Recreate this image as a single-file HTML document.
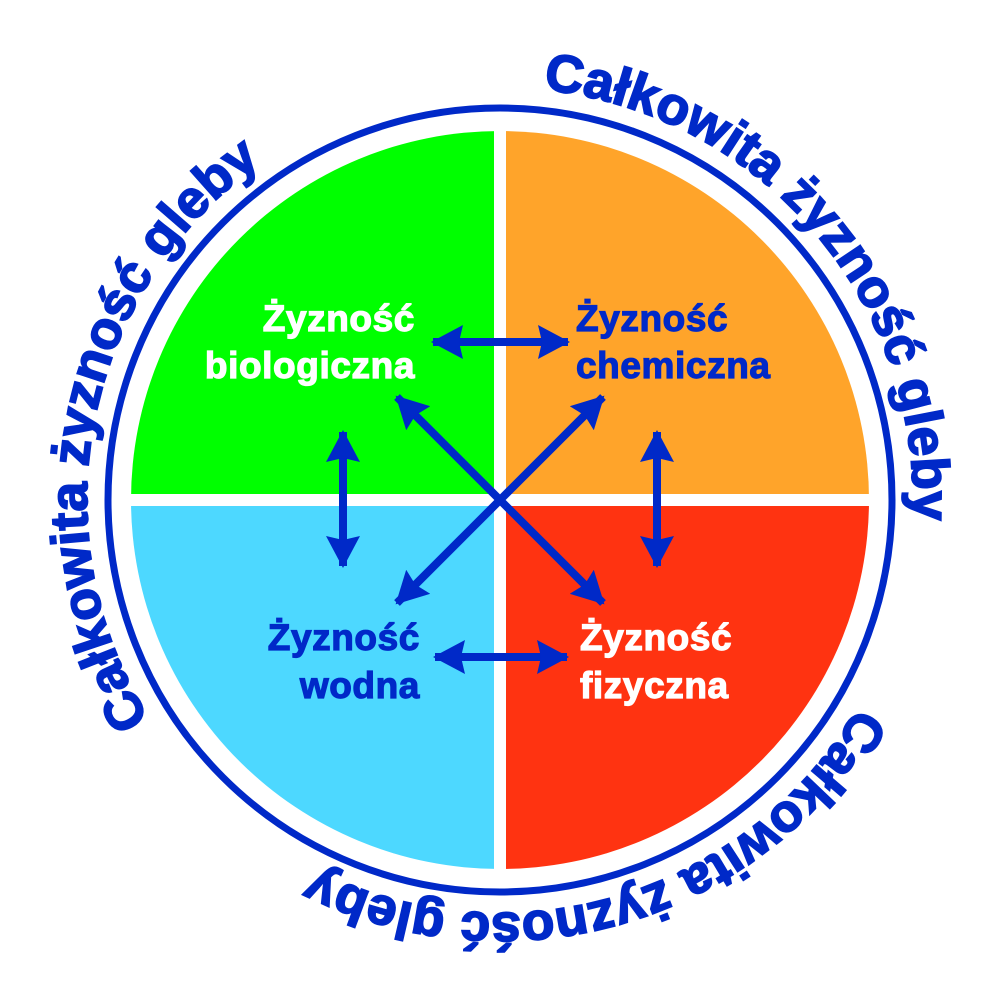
<!DOCTYPE html>
<html><head><meta charset="utf-8"><style>
html,body{margin:0;padding:0;background:#fff;}
svg{display:block;}
.t{font-family:"Liberation Sans",sans-serif;font-weight:bold;font-size:37px;letter-spacing:0.6px;stroke-width:1.2px;}
.a{font-family:"Liberation Sans",sans-serif;font-weight:bold;font-size:53px;fill:#0029c8;stroke:#0029c8;stroke-width:1.8px;}
</style></head><body>
<svg width="1000" height="1000" viewBox="0 0 1000 1000" xmlns="http://www.w3.org/2000/svg">
<defs>
<path id="p1" d="M543.2,89.6 A413,413 0 0 1 912,528.8"/>
<path id="p2" d="M149.8,719 A413,413 0 0 1 269,157.6"/>
<path id="p3" d="M857.7,706.5 A413,413 0 0 1 306.1,864.6"/>
<marker id="h" viewBox="0 0 32 34" refX="30" refY="17" markerWidth="32" markerHeight="34" markerUnits="userSpaceOnUse" orient="auto-start-reverse">
<path d="M0,0 L32,17 L0,34 L4,17 Z" fill="#0029c8"/>
</marker>
</defs>
<circle cx="500" cy="500" r="392" fill="none" stroke="#0029c8" stroke-width="7"/>
<path d="M500,500 L131,500 A369,369 0 0 1 500,131 Z" fill="#00ff00"/>
<path d="M500,500 L500,131 A369,369 0 0 1 869,500 Z" fill="#ffa42a"/>
<path d="M500,500 L869,500 A369,369 0 0 1 500,869 Z" fill="#ff3311"/>
<path d="M500,500 L500,869 A369,369 0 0 1 131,500 Z" fill="#4dd8ff"/>
<rect x="494" y="120" width="12" height="760" fill="#fff"/>
<rect x="120" y="494" width="760" height="12" fill="#fff"/>
<g stroke="#0029c8" stroke-width="8" fill="none" marker-start="url(#h)" marker-end="url(#h)">
<line x1="433" y1="342" x2="568" y2="342"/>
<line x1="435" y1="657" x2="567" y2="657"/>
<line x1="343" y1="432" x2="343" y2="566"/>
<line x1="657" y1="432" x2="657" y2="566"/>
<line x1="397" y1="397" x2="603" y2="603"/>
<line x1="603" y1="397" x2="397" y2="603"/>
</g>
<text class="t" fill="#fff" stroke="#fff" text-anchor="end"><tspan x="415" y="331">Żyzność</tspan><tspan x="415" y="378">biologiczna</tspan></text>
<text class="t" fill="#0029c8" stroke="#0029c8"><tspan x="576" y="331">Żyzność</tspan><tspan x="576" y="378">chemiczna</tspan></text>
<text class="t" fill="#0029c8" stroke="#0029c8" text-anchor="end"><tspan x="420" y="650">Żyzność</tspan><tspan x="420" y="698">wodna</tspan></text>
<text class="t" fill="#fff" stroke="#fff"><tspan x="580" y="650">Żyzność</tspan><tspan x="580" y="698">fizyczna</tspan></text>
<text class="a"><textPath href="#p1" textLength="625" lengthAdjust="spacingAndGlyphs">Całkowita żyzność gleby</textPath></text>
<text class="a"><textPath href="#p2" textLength="625" lengthAdjust="spacingAndGlyphs">Całkowita żyzność gleby</textPath></text>
<text class="a"><textPath href="#p3" textLength="625" lengthAdjust="spacingAndGlyphs">Całkowita żyzność gleby</textPath></text>
</svg>
</body></html>
